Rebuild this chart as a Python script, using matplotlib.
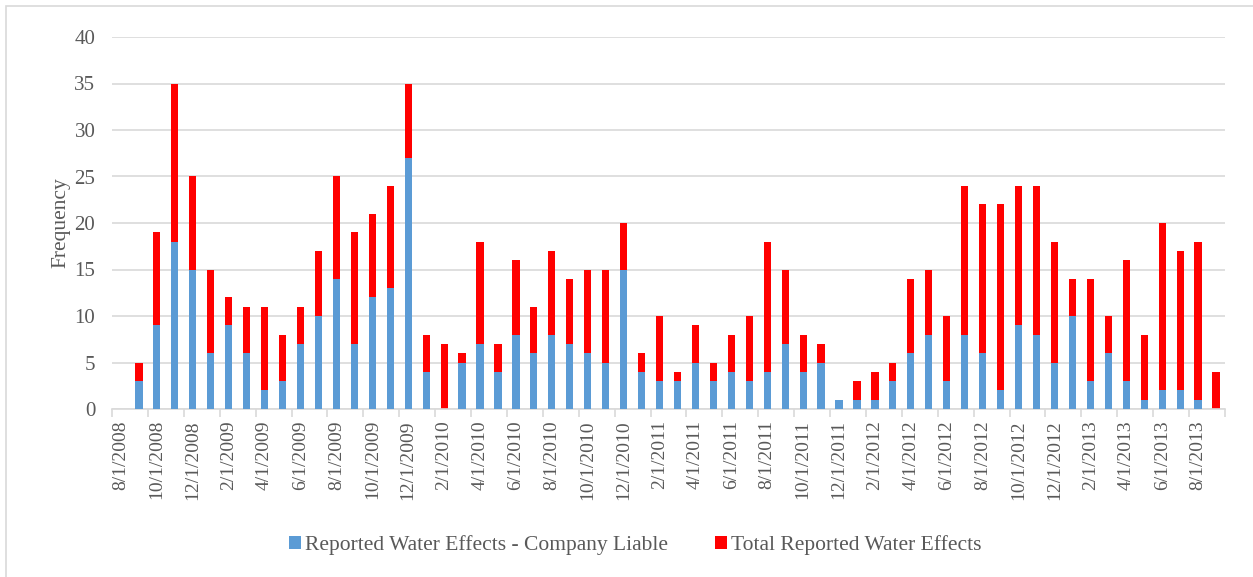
import matplotlib.pyplot as plt
import matplotlib.patches as mpatches
import numpy as np
import pandas as pd

# Daten (monatlich, 8/2008 - 9/2013)
months = pd.date_range('2008-08-01', '2013-09-01', freq='MS')
labels = [f'{d.month}/1/{d.year}' for d in months]

total = [0, 5, 19, 35, 25, 15, 12, 11, 11, 8, 11, 17, 25, 19, 21, 24, 35, 8, 7, 6,
         18, 7, 16, 11, 17, 14, 15, 15, 20, 6, 10, 4, 9, 5, 8, 10, 18, 15, 8, 7,
         1, 3, 4, 5, 14, 15, 10, 24, 22, 22, 24, 24, 18, 14, 14, 10, 16, 8, 20, 17,
         18, 4]
liable = [0, 3, 9, 18, 15, 6, 9, 6, 2, 3, 7, 10, 14, 7, 12, 13, 27, 4, 0, 5,
          7, 4, 8, 6, 8, 7, 6, 5, 15, 4, 3, 3, 5, 3, 4, 3, 4, 7, 4, 5,
          1, 1, 1, 3, 6, 8, 3, 8, 6, 2, 9, 8, 5, 10, 3, 6, 3, 1, 2, 2,
          1, 0]

plt.rcParams['font.family'] = ['Liberation Serif', 'DejaVu Serif']
grau = '#595959'

fig = plt.figure(figsize=(12.53, 5.77), dpi=100)
ax = fig.add_axes([112 / 1253, 1 - 409 / 577, 1113 / 1253, 372 / 577])

x = np.arange(len(labels))
ax.bar(x, total, width=0.4, color='#ff0000', label='Total Reported Water Effects', zorder=2)
ax.bar(x, liable, width=0.4, color='#5b9bd5', label='Reported Water Effects - Company Liable', zorder=3)

ax.set_xlim(-0.5, len(labels) - 0.5)
ax.set_ylim(0, 40)
ax.set_yticks(range(0, 41, 5))
ax.yaxis.grid(True, color='#d9d9d9', linewidth=1.2, zorder=0)
ax.tick_params(axis='y', length=0, labelsize=15, labelcolor=grau, pad=12)

ax.set_xticks(x[::2])
ax.set_xticklabels(labels[::2], rotation=90, fontsize=14, color=grau)
ax.set_xticks(np.arange(-0.5, len(labels), 2), minor=True)
ax.tick_params(axis='x', which='major', length=0, pad=8)
ax.tick_params(axis='x', which='minor', length=6, color='#d9d9d9', width=1.2)

for s in ['top', 'right', 'left']:
    ax.spines[s].set_visible(False)
ax.spines['bottom'].set_color('#d9d9d9')
ax.spines['bottom'].set_linewidth(1.2)

ax.set_ylabel('Frequency', fontsize=15.5, color=grau, labelpad=3)

h, l = ax.get_legend_handles_labels()
fig.legend(h[::-1], l[::-1], loc='center', bbox_to_anchor=(0.507, 1 - 545 / 577),
           ncol=2, frameon=False, fontsize=15.5, labelcolor=grau,
           handlelength=0.55, handleheight=0.55, handletextpad=0.2, columnspacing=2.2)

# Rahmen
fig.patches.append(mpatches.Rectangle((6 / 1253, -0.01), 1.1, 1 - 6 / 577 + 0.01,
                                      transform=fig.transFigure, fill=False,
                                      edgecolor='#d9d9d9', linewidth=1.2))

fig.savefig('out.png', dpi=100)
